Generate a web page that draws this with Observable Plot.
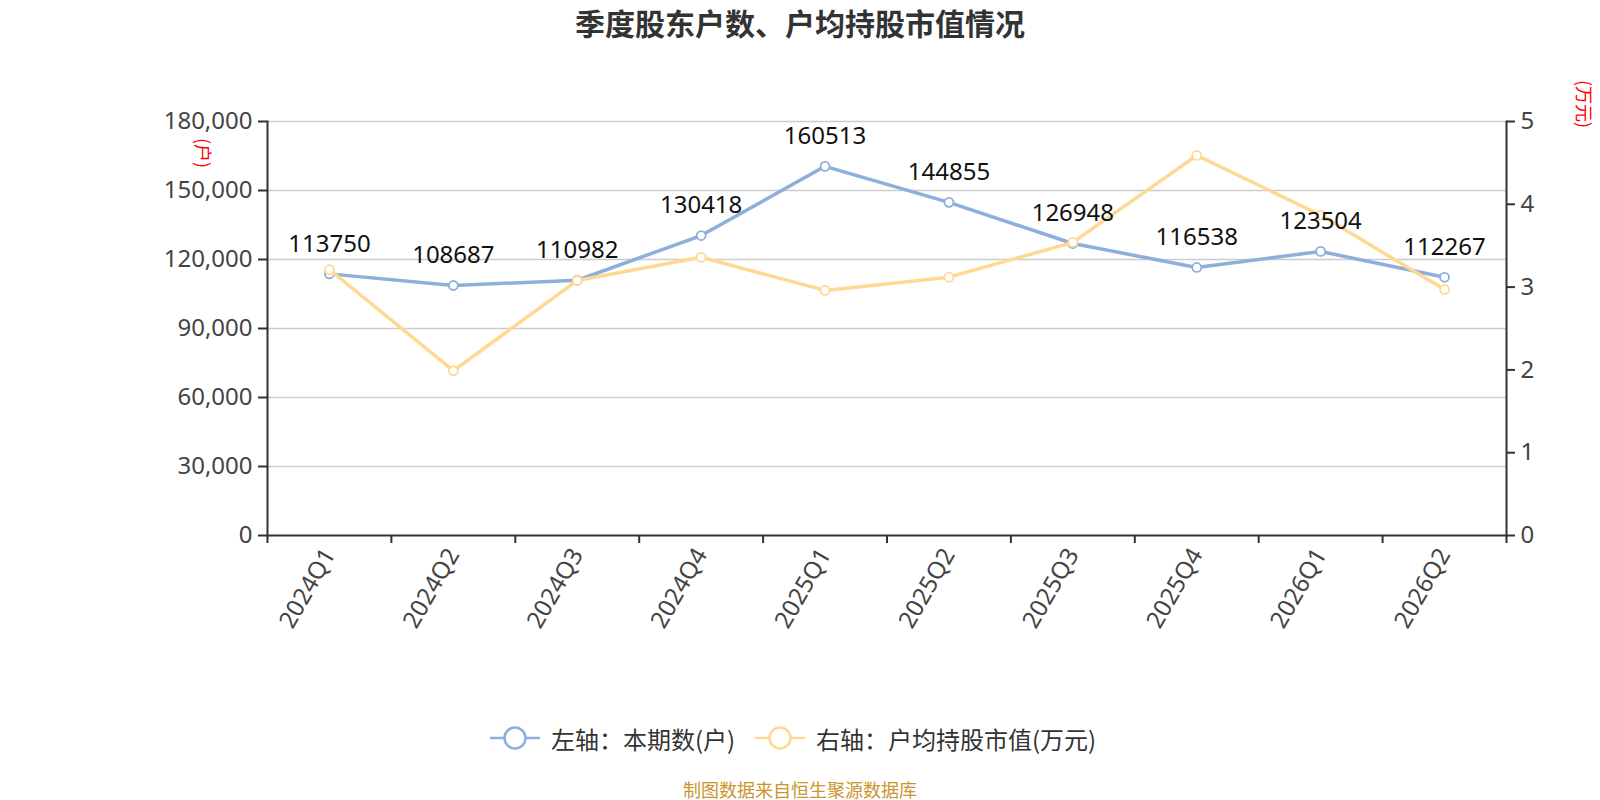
<!DOCTYPE html>
<html>
<head>
<meta charset="utf-8">
<script src="https://cdn.jsdelivr.net/npm/d3@7"></script>
<script src="https://cdn.jsdelivr.net/npm/@observablehq/plot@0.6"></script>
<style>
  html, body { margin: 0; padding: 0; background: #fff; }
  body { width: 1600px; height: 800px; position: relative; overflow: hidden;
         font-family: "Noto Sans", "Noto Sans CJK SC", sans-serif; }
  #title { position: absolute; left: 0; width: 1600px; top: 3px; text-align: center;
           font-family: "Noto Sans CJK SC", sans-serif; font-weight: bold; font-size: 30px; color: #333; line-height: 38px; }
  #chart { position: absolute; left: 0; top: 0; }
  #legend { position: absolute; left: 0; width: 1600px; top: 722px; height: 32px;
            font-family: "Noto Sans CJK SC", sans-serif; font-size: 24px; color: #333; }
  .item { position: absolute; top: 0; height: 32px; display: flex; align-items: center; }
  #source { position: absolute; left: 0; width: 1600px; top: 778px; text-align: center;
            font-family: "Noto Sans CJK SC", sans-serif; font-size: 18px; color: #c8962a; line-height: 22px; }
  .rlabel { position: absolute; font-family: "Noto Sans CJK SC", sans-serif; font-size: 18px; color: #ff0000;
            transform: rotate(90deg); transform-origin: center center; white-space: nowrap; }
</style>
</head>
<body>
<div id="title">季度股东户数、户均持股市值情况</div>
<div id="chart"></div>
<div id="legend"></div>
<div id="source">制图数据来自恒生聚源数据库</div>
<script>
// ---- data ----
const quarters = ["2024Q1","2024Q2","2024Q3","2024Q4","2025Q1","2025Q2","2025Q3","2025Q4","2026Q1","2026Q2"];
const holders = [113750,108687,110982,130418,160513,144855,126948,116538,123504,112267];
const avgValue = [3.21,1.99,3.08,3.36,2.96,3.12,3.54,4.59,3.87,2.97];
const leftTicks = [0,30000,60000,90000,120000,150000,180000];
const rightTicks = [0,1,2,3,4,5];
const leftUnit = "(户)";
const rightUnit = "(万元)";
const seriesNames = ["左轴：本期数(户)", "右轴：户均持股市值(万元)"];
const colors = ["#8eaedc", "#ffd993"];

const leftMax = 180000, rightMax = 5;
const k = leftMax / rightMax;

const rowsA = quarters.map((q, i) => ({i: i + 0.5, q, v: holders[i]}));
const rowsB = quarters.map((q, i) => ({i: i + 0.5, q, v: avgValue[i] * k}));

const chart = Plot.plot({
  width: 1600,
  height: 680,
  marginTop: 121,
  marginBottom: 145,
  marginLeft: 267,
  marginRight: 94,
  style: {fontFamily: '"Noto Sans", sans-serif', fontSize: "24px", color: "#333", background: "transparent"},
  x: {domain: [0, quarters.length], axis: null},
  y: {domain: [0, leftMax], axis: null},
  marks: [
    Plot.gridY(leftTicks.slice(1), {stroke: "#cccccc", strokeOpacity: 1, strokeWidth: 1.5}),
    Plot.axisY({ticks: leftTicks, tickFormat: d3.format(","), tickSize: 9, tickPadding: 6, stroke: "#333", strokeWidth: 2, fill: "#444", fontSize: 24, label: null}),
    Plot.axisY({anchor: "right", ticks: rightTicks.map(t => t * k), tickFormat: d => d3.format("d")(d / k), tickSize: 8, tickPadding: 6, stroke: "#333", strokeWidth: 2, fill: "#444", fontSize: 24, label: null}),
    Plot.axisX({ticks: d3.range(0, quarters.length + 1), tickFormat: () => "", tickSize: 8, stroke: "#333", strokeWidth: 2, label: null}),
    Plot.axisX({ticks: quarters.map((_, i) => i + 0.5), tickFormat: d => quarters[Math.floor(d)], tickSize: 0, tickPadding: 15, tickRotate: -60, fill: "#444", fontSize: 24, label: null}),
    Plot.frame({anchor: "left", stroke: "#333", strokeWidth: 2}),
    Plot.frame({anchor: "right", stroke: "#333", strokeWidth: 2}),
    Plot.frame({anchor: "bottom", stroke: "#333", strokeWidth: 2}),
    Plot.line(rowsA, {x: "i", y: "v", stroke: colors[0], strokeWidth: 3.5}),
    Plot.dot(rowsA, {x: "i", y: "v", r: 4.5, fill: "white", stroke: colors[0], strokeWidth: 1.8}),
    Plot.line(rowsB, {x: "i", y: "v", stroke: colors[1], strokeWidth: 3.5}),
    Plot.dot(rowsB, {x: "i", y: "v", r: 4.5, fill: "white", stroke: colors[1], strokeWidth: 1.8}),
    Plot.text(rowsA, {x: "i", y: "v", text: d => String(d.v), dy: -30, fontSize: 24, fill: "#111", lineAnchor: "middle"})
  ]
});
document.getElementById("chart").appendChild(chart);

// unit labels (rotated, red)
function addUnit(text, cx, cy) {
  const el = document.createElement("div");
  el.className = "rlabel";
  el.textContent = text;
  document.body.appendChild(el);
  const w = el.offsetWidth, h = el.offsetHeight;
  el.style.left = (cx - w / 2) + "px";
  el.style.top = (cy - h / 2) + "px";
}
addUnit(leftUnit, 204, 153);
addUnit(rightUnit, 1585, 104);

// legend
const legend = document.getElementById("legend");
const itemX = [490, 755];
seriesNames.forEach((name, i) => {
  const item = document.createElement("div");
  item.className = "item";
  item.style.left = itemX[i] + "px";
  item.innerHTML = `<svg width="54" height="32" style="margin-right:7px">
      <line x1="0" x2="50" y1="16" y2="16" stroke="${colors[i]}" stroke-width="2.5"/>
      <circle cx="25" cy="16" r="10.5" fill="white" stroke="${colors[i]}" stroke-width="2.5"/>
    </svg><span>${name}</span>`;
  legend.appendChild(item);
});
</script>
</body>
</html>
